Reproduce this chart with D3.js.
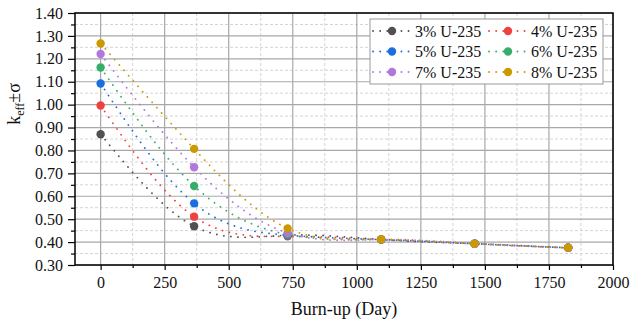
<!DOCTYPE html>
<html>
<head>
<meta charset="utf-8">
<script src="https://cdn.jsdelivr.net/npm/d3@7"></script>
<style>
  body { margin: 0; background: #fff; }
  svg { display: block; font-family: "Liberation Serif", "Times New Roman", serif; }
</style>
</head>
<body>
<div id="chart"></div>
<script>
// burn-up steps (days)
var days = [0, 365, 730, 1095, 1460, 1825];

// keff values, one array per enrichment
var u3 = [0.871, 0.469, 0.430, 0.411, 0.393, 0.375];
var u4 = [0.996, 0.511, 0.425, 0.411, 0.393, 0.375];
var u5 = [1.092, 0.569, 0.430, 0.411, 0.393, 0.375];
var u6 = [1.162, 0.645, 0.433, 0.411, 0.393, 0.375];
var u7 = [1.221, 0.727, 0.440, 0.411, 0.393, 0.375];
var u8 = [1.267, 0.807, 0.460, 0.412, 0.393, 0.376];

var series_names = ['3% U-235', '4% U-235', '5% U-235', '6% U-235', '7% U-235', '8% U-235'];
var series_values = [u3, u4, u5, u6, u7, u8];
var colors = ['#515151', '#F14040', '#1A6FDF', '#37AD6B', '#B177DE', '#CC9900'];

var x_ticks = [0, 250, 500, 750, 1000, 1250, 1500, 1750, 2000];
var y_ticks = [0.30, 0.40, 0.50, 0.60, 0.70, 0.80, 0.90, 1.00, 1.10, 1.20, 1.30, 1.40];

var chart_width = 630, chart_height = 324;
var plot_left = 75, plot_right = 613, plot_top = 13, plot_bottom = 265;

var svg = d3.select('#chart').append('svg')
    .attr('width', chart_width)
    .attr('height', chart_height);

var x_scale = d3.scaleLinear().domain([-100, 2000]).range([plot_left, plot_right]);
var y_scale = d3.scaleLinear().domain([0.30, 1.40]).range([plot_bottom, plot_top]);

// minor values halfway between the majors
var x_minor = [];
for (var i = 0; i < x_ticks.length - 1; i++) x_minor.push((x_ticks[i] + x_ticks[i + 1]) / 2);
var y_minor = [];
for (var j = 0; j < y_ticks.length - 1; j++) y_minor.push((y_ticks[j] + y_ticks[j + 1]) / 2);

// grid
var grid = svg.append('g');
grid.selectAll('.xminor').data(x_minor).enter().append('line')
    .attr('x1', function(d) { return x_scale(d); }).attr('x2', function(d) { return x_scale(d); })
    .attr('y1', plot_top).attr('y2', plot_bottom)
    .attr('stroke', '#d4d4d4').attr('stroke-dasharray', '3,2').attr('stroke-width', 1);
grid.selectAll('.yminor').data(y_minor).enter().append('line')
    .attr('x1', plot_left).attr('x2', plot_right)
    .attr('y1', function(d) { return y_scale(d); }).attr('y2', function(d) { return y_scale(d); })
    .attr('stroke', '#d4d4d4').attr('stroke-dasharray', '3,2').attr('stroke-width', 1);
grid.selectAll('.xmajor').data(x_ticks).enter().append('line')
    .attr('x1', function(d) { return x_scale(d); }).attr('x2', function(d) { return x_scale(d); })
    .attr('y1', plot_top).attr('y2', plot_bottom)
    .attr('stroke', '#a8a8a8').attr('stroke-width', 1.2);
grid.selectAll('.ymajor').data(y_ticks).enter().append('line')
    .attr('x1', plot_left).attr('x2', plot_right)
    .attr('y1', function(d) { return y_scale(d); }).attr('y2', function(d) { return y_scale(d); })
    .attr('stroke', '#a8a8a8').attr('stroke-width', 1.2);

// axes
svg.append('g')
    .attr('transform', 'translate(0,' + plot_bottom + ')')
    .call(d3.axisBottom(x_scale).tickValues(x_ticks).tickSize(5).tickPadding(7).tickFormat(d3.format('d')));
svg.append('g')
    .attr('transform', 'translate(0,' + plot_bottom + ')')
    .call(d3.axisBottom(x_scale).tickValues(x_minor).tickSize(3).tickFormat(''));

svg.append('g')
    .attr('transform', 'translate(' + plot_left + ',0)')
    .call(d3.axisLeft(y_scale).tickValues(y_ticks).tickSize(7).tickPadding(5).tickFormat(d3.format('.2f')));
svg.append('g')
    .attr('transform', 'translate(' + plot_left + ',0)')
    .call(d3.axisLeft(y_scale).tickValues(y_minor).tickSize(4).tickFormat(''));

svg.selectAll('.domain').remove();
svg.selectAll('.tick line').attr('stroke', '#000').attr('stroke-width', 1.2);
svg.selectAll('.tick text').attr('font-size', '16px').attr('fill', '#111')
    .style('font-family', '"Liberation Serif", serif');

// frame
svg.append('rect')
    .attr('x', plot_left).attr('y', plot_top)
    .attr('width', plot_right - plot_left).attr('height', plot_bottom - plot_top)
    .attr('fill', 'none').attr('stroke', '#000').attr('stroke-width', 1.5);

// series
var line = d3.line()
    .x(function(d) { return x_scale(d[0]); })
    .y(function(d) { return y_scale(d[1]); })
    .curve(d3.curveNatural);

series_values.forEach(function(vals, i) {
    var pts = days.map(function(d, k) { return [d, vals[k]]; });
    var g = svg.append('g');
    g.append('path')
        .attr('d', line(pts))
        .attr('fill', 'none')
        .attr('stroke', colors[i])
        .attr('stroke-width', 1.8)
        .attr('stroke-linecap', 'round')
        .attr('stroke-dasharray', '0.1,7');
    g.selectAll('circle').data(pts).enter().append('circle')
        .attr('cx', function(d) { return x_scale(d[0]); })
        .attr('cy', function(d) { return y_scale(d[1]); })
        .attr('r', 4.2)
        .attr('fill', colors[i]);
});

// legend
var legend = svg.append('g');
legend.append('rect')
    .attr('x', 370).attr('y', 19).attr('width', 233).attr('height', 65)
    .attr('fill', '#fff').attr('stroke', '#999').attr('stroke-width', 1);
series_names.forEach(function(name, i) {
    var col = i % 2, row = Math.floor(i / 2);
    var x0 = col === 0 ? 373 : 489;
    var y0 = 31 + row * 20.5;
    legend.append('line')
        .attr('x1', x0).attr('x2', x0 + 38)
        .attr('y1', y0).attr('y2', y0)
        .attr('stroke', colors[i]).attr('stroke-width', 1.8)
        .attr('stroke-linecap', 'round')
        .attr('stroke-dasharray', '0.1,7');
    legend.append('circle')
        .attr('cx', x0 + 19).attr('cy', y0).attr('r', 4.2)
        .attr('fill', colors[i]);
    legend.append('text')
        .attr('x', x0 + 42).attr('y', y0 + 5.5)
        .attr('font-size', '16px').attr('fill', '#111')
        .text(name);
});

// axis titles
svg.append('text')
    .attr('x', (plot_left + plot_right) / 2).attr('y', 315)
    .attr('text-anchor', 'middle')
    .attr('font-size', '18px').attr('fill', '#111')
    .text('Burn-up (Day)');

var ylab = svg.append('text')
    .attr('transform', 'translate(20,104) rotate(-90)')
    .attr('text-anchor', 'middle')
    .attr('font-size', '18px').attr('fill', '#111');
ylab.append('tspan').text('k');
ylab.append('tspan').attr('font-size', '12px').attr('dy', 4).text('eff');
ylab.append('tspan').attr('dy', -4).text('±σ');
</script>
</body>
</html>
